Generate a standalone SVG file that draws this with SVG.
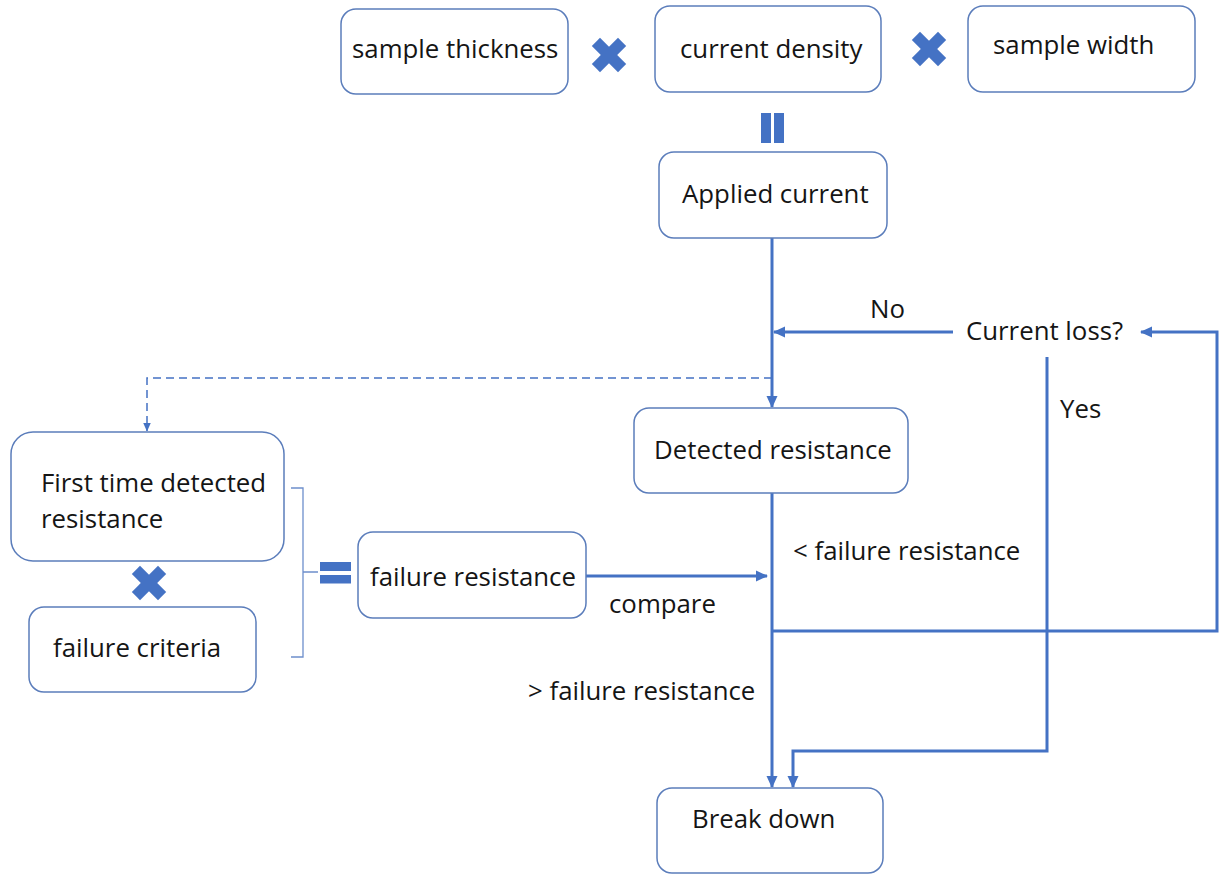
<svg xmlns="http://www.w3.org/2000/svg" width="1221" height="875" viewBox="0 0 1221 875">
<style>
.box{fill:#fff;stroke:#5b7dbb;stroke-width:1.5}
.t{font-family:"Open Sans","Noto Sans",sans-serif;font-size:25.8px;fill:#151515}
.ln{fill:none;stroke:#4472c4;stroke-width:3}
.dash{fill:none;stroke:#4472c4;stroke-width:1.5;stroke-dasharray:8,5}
.br{fill:none;stroke:#6d8fcc;stroke-width:1.3}
.sym{fill:#4472c4}
</style>
<defs>
<marker id="ah" markerUnits="userSpaceOnUse" markerWidth="12" markerHeight="12" viewBox="0 0 12 12" refX="11" refY="6" orient="auto"><path d="M0,0.5 L12,6 L0,11.5 Z" fill="#4472c4"/></marker>
<marker id="ahs" markerUnits="userSpaceOnUse" markerWidth="9" markerHeight="9" viewBox="0 0 9 9" refX="8.5" refY="4.5" orient="auto"><path d="M0,0.5 L9,4.5 L0,8.5 Z" fill="#4472c4"/></marker>
<g id="xm" class="sym"><rect x="-18.5" y="-5.8" width="37" height="11.6" transform="rotate(45)"/><rect x="-18.5" y="-5.8" width="37" height="11.6" transform="rotate(-45)"/></g>
</defs>

<g id="connectors">
<path class="ln" d="M772 238 V407" marker-end="url(#ah)"/>
<path class="ln" d="M953 332 H774" marker-end="url(#ah)"/>
<path class="dash" d="M772 378 H147 V431" marker-end="url(#ahs)"/>
<path class="ln" d="M772 493 V787" marker-end="url(#ah)"/>
<path class="ln" d="M586 576 H767" marker-end="url(#ah)"/>
<path class="ln" d="M772 631 H1217 V332 H1141" marker-end="url(#ah)"/>
<path class="ln" d="M1047 357 V751 H793 V787" marker-end="url(#ah)"/>
<path class="br" d="M291 488 H303 V657 H291 M303 572 H318"/>
</g>

<g id="n-thickness"><rect class="box" x="341" y="9" width="227" height="85" rx="15"/><text class="t" x="352" y="58">sample thickness</text></g>
<g id="x1"><use href="#xm" x="609" y="55"/></g>
<g id="n-density"><rect class="box" x="655" y="6" width="226" height="86" rx="15"/><text class="t" x="680" y="58">current density</text></g>
<g id="x2"><use href="#xm" x="929" y="49"/></g>
<g id="n-width"><rect class="box" x="968" y="6" width="227" height="86" rx="15"/><text class="t" x="993" y="54">sample width</text></g>
<g id="eq1" class="sym"><rect x="761" y="113" width="10" height="30"/><rect x="774" y="113" width="10" height="30"/></g>
<g id="n-applied"><rect class="box" x="659" y="152" width="228" height="86" rx="15"/><text class="t" x="682" y="203">Applied current</text></g>
<g id="n-loss"><text class="t" x="966" y="340">Current loss?</text></g>
<g id="lbl-no"><text class="t" x="870" y="318">No</text></g>
<g id="lbl-yes"><text class="t" x="1060" y="418">Yes</text></g>
<g id="n-detected"><rect class="box" x="634" y="408" width="274" height="85" rx="15"/><text class="t" x="654" y="459">Detected resistance</text></g>
<g id="n-first"><rect class="box" x="11" y="432" width="273" height="129" rx="22"/><text class="t" x="41" y="492">First time detected</text><text class="t" x="41" y="528">resistance</text></g>
<g id="x3"><use href="#xm" x="149" y="583"/></g>
<g id="n-criteria"><rect class="box" x="29" y="607" width="227" height="85" rx="15"/><text class="t" x="53" y="657">failure criteria</text></g>
<g id="eq2" class="sym"><rect x="320" y="562" width="31" height="9"/><rect x="320" y="575" width="31" height="8.5"/></g>
<g id="n-failres"><rect class="box" x="358" y="532" width="228" height="86" rx="15"/><text class="t" x="370" y="586">failure resistance</text></g>
<g id="lbl-compare"><text class="t" x="609" y="613">compare</text></g>
<g id="lbl-lt"><text class="t" x="793" y="560">&lt; failure resistance</text></g>
<g id="lbl-gt"><text class="t" x="528" y="700">&gt; failure resistance</text></g>
<g id="n-break"><rect class="box" x="657" y="788" width="226" height="85" rx="15"/><text class="t" x="692" y="828">Break down</text></g>
</svg>
